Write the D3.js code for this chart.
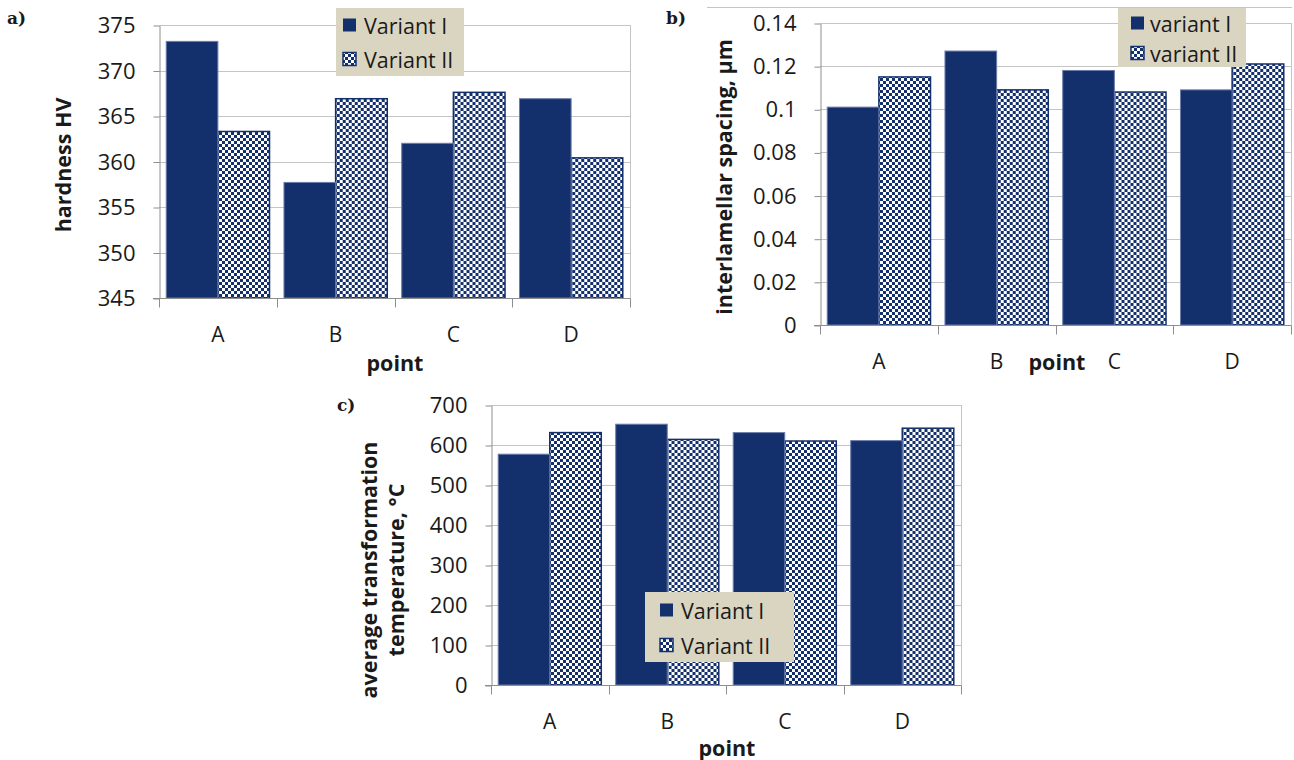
<!DOCTYPE html>
<html>
<head>
<meta charset="utf-8">
<script src="https://cdn.jsdelivr.net/npm/d3@7"></script>
<style>
  html, body { margin: 0; padding: 0; background: #ffffff; }
  svg { display: block; }
  text { font-family: "Open Sans", "Noto Sans", sans-serif; fill: #1a1a1a; }
  text.tag { font-family: "DejaVu Serif", "Liberation Serif", serif; font-weight: 700; }
</style>
</head>
<body>
<svg id="fig" width="1294" height="760"></svg>
<script>
// ---- data ----
const categories = ["A", "B", "C", "D"];

const hardnessVariantI  = [373.2, 357.7, 362.0, 366.9];
const hardnessVariantII = [363.3, 366.9, 367.6, 360.4];
const hardnessTicks = [345, 350, 355, 360, 365, 370, 375];
const hardnessTickLabels = ["345", "350", "355", "360", "365", "370", "375"];

const spacingVariantI  = [0.101, 0.127, 0.118, 0.109];
const spacingVariantII = [0.115, 0.109, 0.108, 0.121];
const spacingTicks = [0, 0.02, 0.04, 0.06, 0.08, 0.1, 0.12, 0.14];
const spacingTickLabels = ["0", "0.02", "0.04", "0.06", "0.08", "0.1", "0.12", "0.14"];

const tempVariantI  = [577, 652, 631, 611];
const tempVariantII = [631, 614, 610, 642];
const tempTicks = [0, 100, 200, 300, 400, 500, 600, 700];
const tempTickLabels = ["0", "100", "200", "300", "400", "500", "600", "700"];

// ---- styling ----
const NAVY = "#14306c";
const GRID = "#c4c4c4";
const AXIS = "#8e8e8e";
const LEGEND_BG = "#d9d5c1";

const svg = d3.select("#fig");

// checkerboard fill used for the second variant
const defs = svg.append("defs");
const pat = defs.append("pattern")
  .attr("id", "checker")
  .attr("patternUnits", "userSpaceOnUse")
  .attr("width", 6).attr("height", 6);
pat.append("rect").attr("width", 6).attr("height", 6).attr("fill", "#ffffff");
pat.append("rect").attr("x", 0).attr("y", 0).attr("width", 3).attr("height", 3).attr("fill", NAVY);
pat.append("rect").attr("x", 3).attr("y", 3).attr("width", 3).attr("height", 3).attr("fill", NAVY);

function drawPanel(cfg) {
  const g = svg.append("g");

  const x = d3.scaleBand().domain(categories).range([cfg.x0, cfg.x1]).paddingInner(0).paddingOuter(0);
  const series = ["I", "II"];
  const xs = d3.scaleBand().domain(series).range([0, x.bandwidth()]).paddingInner(0).paddingOuter(0.14);
  const y = d3.scaleLinear().domain(cfg.domain).range([cfg.yBottom, cfg.yTop]);

  // horizontal gridlines
  g.append("g")
    .selectAll("line")
    .data(cfg.ticks)
    .join("line")
    .attr("x1", cfg.x0).attr("x2", cfg.x1)
    .attr("y1", d => Math.round(y(d)) + 0.5).attr("y2", d => Math.round(y(d)) + 0.5)
    .attr("stroke", GRID).attr("stroke-width", 1);

  // right frame line
  g.append("line")
    .attr("x1", cfg.x1 + 0.5).attr("x2", cfg.x1 + 0.5)
    .attr("y1", Math.round(y(cfg.domain[1]))).attr("y2", Math.round(y(cfg.domain[0])) + 1)
    .attr("stroke", GRID);

  // y axis
  const yAxis = d3.axisLeft(y)
    .tickValues(cfg.ticks)
    .tickFormat((d, i) => cfg.tickLabels[i])
    .tickSize(6).tickSizeOuter(0).tickPadding(18);
  const ya = g.append("g").attr("transform", `translate(${cfg.x0 + 0.5},0.5)`).call(yAxis);
  ya.select(".domain").attr("stroke", AXIS);
  ya.selectAll(".tick line").attr("stroke", AXIS);
  ya.selectAll(".tick text").style("font-size", "22px").style("fill", "#1a1a1a");

  // bars
  const rows = categories.map((c, i) => ({ c, I: cfg.seriesI[i], II: cfg.seriesII[i] }));
  const base = y(cfg.domain[0]);
  const bars = g.append("g").selectAll("g").data(rows).join("g")
    .attr("transform", d => `translate(${x(d.c)},0)`);
  bars.append("rect")
    .attr("x", xs("II")).attr("width", xs.bandwidth())
    .attr("y", d => y(d.II)).attr("height", d => base - y(d.II))
    .attr("fill", "url(#checker)")
    .attr("stroke", NAVY).attr("stroke-width", 1.5);
  bars.append("rect")
    .attr("x", xs("I")).attr("width", xs.bandwidth())
    .attr("y", d => y(d.I)).attr("height", d => base - y(d.I))
    .attr("fill", NAVY)
    .attr("stroke", "#6c7cab").attr("stroke-width", 1);

  // x axis with boundary ticks
  const xAxis = d3.axisBottom(x).tickSize(0).tickPadding(29);
  const xa = g.append("g").attr("transform", `translate(0,${Math.round(base) + 0.5})`).call(xAxis);
  xa.select(".domain").attr("stroke", AXIS).attr("d", `M${cfg.x0 - 6},0H${cfg.x1}`);
  xa.selectAll(".tick text").style("font-size", "21px").style("fill", "#1a1a1a");
  const bounds = categories.map(c => x(c)).concat([cfg.x1]);
  xa.append("g").selectAll("line").data(bounds).join("line")
    .attr("x1", d => Math.round(d) + 0.5).attr("x2", d => Math.round(d) + 0.5)
    .attr("y1", 0).attr("y2", 9)
    .attr("stroke", AXIS);

  // axis titles
  const yt = g.append("text")
    .attr("transform", `translate(${cfg.yTitleX},${cfg.yTitleY}) rotate(-90)`)
    .attr("text-anchor", "middle")
    .style("font-size", "21.5px").style("font-weight", 700);
  cfg.yTitle.forEach((line, i) => {
    yt.append("tspan").attr("x", 0).attr("dy", i === 0 ? 0 : 27).text(line);
  });

  g.append("text")
    .attr("x", cfg.pointX).attr("y", cfg.pointY)
    .attr("text-anchor", "middle").attr("dominant-baseline", "central")
    .style("font-size", "21.5px").style("font-weight", 700)
    .text("point");

  // panel tag
  g.append("text")
    .attr("class", "tag")
    .attr("x", cfg.tagX).attr("y", cfg.tagY)
    .style("font-size", "17px")
    .text(cfg.tag);

  // legend
  const L = cfg.legend;
  const lg = g.append("g");
  lg.append("rect")
    .attr("x", L.x).attr("y", L.y).attr("width", L.w).attr("height", L.h)
    .attr("fill", LEGEND_BG);
  L.labels.forEach((lab, i) => {
    const cy = L.rows[i];
    lg.append("rect")
      .attr("x", L.sx).attr("y", cy - 6.5).attr("width", 13).attr("height", 13)
      .attr("fill", i === 0 ? NAVY : "url(#checker)")
      .attr("stroke", i === 0 ? "none" : NAVY).attr("stroke-width", 1.5);
    lg.append("text")
      .attr("x", L.tx).attr("y", cy)
      .attr("dominant-baseline", "central")
      .style("font-size", "21.5px")
      .text(lab);
  });
}

// a) hardness
drawPanel({
  x0: 159, x1: 630, yTop: 25, yBottom: 298,
  domain: [345, 375], ticks: hardnessTicks, tickLabels: hardnessTickLabels,
  seriesI: hardnessVariantI, seriesII: hardnessVariantII,
  yTitle: ["hardness HV"], yTitleX: 71, yTitleY: 165,
  pointX: 395, pointY: 362,
  tag: "a)", tagX: 7, tagY: 24,
  legend: { x: 336, y: 8, w: 128, h: 68, sx: 343, tx: 364, rows: [25, 59],
            labels: ["Variant I", "Variant II"] }
});

// frame line across the top of panel b (drawn beneath its legend)
svg.append("line")
  .attr("x1", 707).attr("x2", 1292).attr("y1", 7.5).attr("y2", 7.5)
  .attr("stroke", GRID);

// b) interlamellar spacing
drawPanel({
  x0: 820, x1: 1291, yTop: 23, yBottom: 325,
  domain: [0, 0.14], ticks: spacingTicks, tickLabels: spacingTickLabels,
  seriesI: spacingVariantI, seriesII: spacingVariantII,
  yTitle: ["interlamellar spacing, μm"], yTitleX: 732, yTitleY: 177,
  pointX: 1057, pointY: 361,
  tag: "b)", tagX: 666, tagY: 24,
  legend: { x: 1118, y: 8, w: 128, h: 59, sx: 1131, tx: 1150, rows: [23, 53],
            labels: ["variant I", "variant II"] }
});

// c) transformation temperature
drawPanel({
  x0: 491, x1: 961, yTop: 405, yBottom: 685,
  domain: [0, 700], ticks: tempTicks, tickLabels: tempTickLabels,
  seriesI: tempVariantI, seriesII: tempVariantII,
  yTitle: ["average transformation", "temperature, °C"], yTitleX: 377, yTitleY: 570,
  pointX: 727, pointY: 747,
  tag: "c)", tagX: 337, tagY: 411,
  legend: { x: 645, y: 592, w: 149, h: 70, sx: 660, tx: 681, rows: [610, 645],
            labels: ["Variant I", "Variant II"] }
});
</script>
</body>
</html>
